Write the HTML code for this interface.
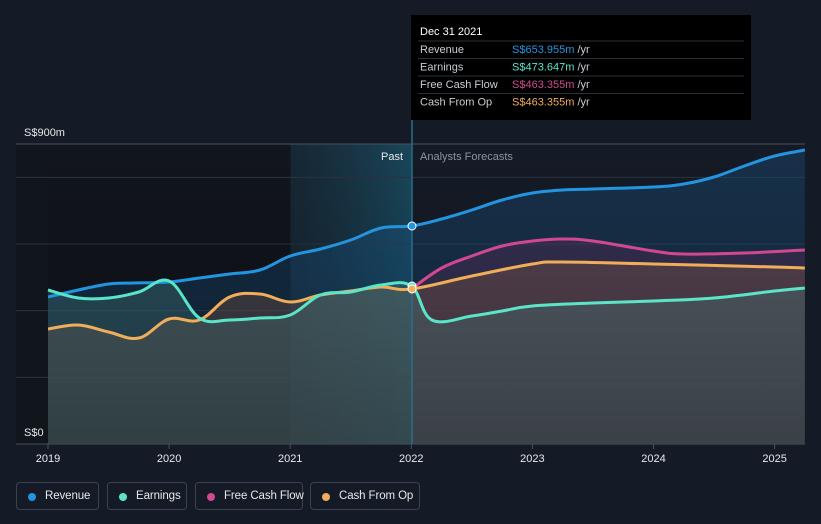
<!DOCTYPE html>
<html><head><meta charset="utf-8"><style>
body{margin:0;background:#151b26;font-family:"Liberation Sans",sans-serif;}
#wrap{position:relative;width:821px;height:524px;overflow:hidden;background:#151b26;}
.leg{position:absolute;top:482px;height:28px;border:1px solid #3a4150;border-radius:4px;color:#e6e8eb;font-size:11.5px;line-height:27px;box-sizing:border-box;padding-left:28px;white-space:nowrap;letter-spacing:-0.1px}
.leg i{position:absolute;left:11px;top:10px;width:8px;height:8px;border-radius:50%}
</style></head><body>
<div id="wrap">
<svg id="chart" width="821" height="524"></svg>
<div class="leg" style="left:16px;width:83px"><i style="background:#2394df"></i>Revenue</div>
<div class="leg" style="left:107px;width:80px"><i style="background:#5ae4c8"></i>Earnings</div>
<div class="leg" style="left:195px;width:108px"><i style="background:#d14890"></i>Free Cash Flow</div>
<div class="leg" style="left:310px;width:110px"><i style="background:#f0ad5a"></i>Cash From Op</div>
</div>
<script>
const yTicks=[0,200,400,600,800,900];
const xTickYears=[2019,2020,2021,2022,2023,2024,2025];
const revX=[2019,2019.25,2019.5,2019.7,2020,2020.25,2020.5,2020.75,2021,2021.25,2021.5,2021.75,2022,2022.25,2022.5,2022.75,2023,2023.25,2023.5,2024,2024.25,2024.5,2024.75,2025,2025.25];
const revY=[441,462,480,483,486,498,510,522,564,585,612,648,654,675,702,732,753,762,765,771,780,801,834,864,882];
const earnX=[2019,2019.25,2019.5,2019.75,2020,2020.25,2020.5,2020.75,2021,2021.25,2021.5,2021.75,2022,2022.17,2022.5,2022.75,2023,2023.5,2024,2024.5,2025,2025.25];
const earnY=[462,438,438,456,489,378,372,378,387,447,456,477,474,372,384,399,414,423,429,438,459,468];
const cfoX=[2019,2019.25,2019.5,2019.75,2020,2020.25,2020.5,2020.75,2021,2021.25,2021.5,2021.75,2022,2022.5,2023,2023.25,2024,2025,2025.25];
const cfoY=[345,357,336,318,375,372,441,450,426,447,459,471,465,504,540,546,540,531,528];
const fcfX=[2022,2022.25,2022.5,2022.75,2023,2023.25,2023.5,2024,2024.25,2024.75,2025.25];
const fcfY=[465,528,564,594,609,615,609,579,570,573,582];
const NS="http://www.w3.org/2000/svg";
const svg=document.getElementById('chart');
const X=y=>48+(y-2019)*121.1;
const Y=v=>444-v/3;
function el(t,a,p){const e=document.createElementNS(NS,t);for(const k in a)e.setAttribute(k,a[k]);(p||svg).appendChild(e);return e;}
function path(xs,ys){const p=xs.map((x,i)=>[X(x),Y(ys[i])]);let d='M'+p[0][0]+','+p[0][1];
for(let i=0;i<p.length-1;i++){const p0=p[i-1]||p[i],p1=p[i],p2=p[i+1],p3=p[i+2]||p2;const t=0.18;
d+=' C'+(p1[0]+(p2[0]-p0[0])*t)+','+(p1[1]+(p2[1]-p0[1])*t)+' '+(p2[0]-(p3[0]-p1[0])*t)+','+(p2[1]-(p3[1]-p1[1])*t)+' '+p2[0]+','+p2[1];}return d;}
const defs=el('defs',{});
defs.innerHTML='<linearGradient id="past" x1="0" x2="1"><stop offset="0" stop-color="#1c4a5e" stop-opacity="0.25"/><stop offset="1" stop-color="#1c6a86" stop-opacity="0.55"/></linearGradient>'+
'<linearGradient id="shade" x1="0" y1="0" x2="0" y2="1"><stop offset="0" stop-color="#000" stop-opacity="0"/><stop offset="1" stop-color="#000" stop-opacity="0.3"/></linearGradient>';
el('rect',{x:16,y:144,width:275,height:300,fill:'#11151c'});
const past=el('rect',{x:X(2021),y:144,width:X(2022)-X(2021),height:300,fill:'url(#past)'});


yTicks.forEach(v=>{const l=el('line',{x1:16,x2:805,y1:Y(v),y2:Y(v),stroke:v==0||v==900?'#4a505c':'#2c3340','stroke-width':1});

});
const series=[[revX,revY,'#2394df','rgba(30,90,140,0.35)','revenue'],[fcfX,fcfY,'#d14890','rgba(120,50,100,0.3)','free-cash-flow'],[cfoX,cfoY,'#f0ad5a','rgba(150,100,80,0.35)','cash-from-op'],[earnX,earnY,'#5ae4c8','rgba(80,140,140,0.35)','earnings']];
series.forEach(s=>{const d=path(s[0],s[1]);const a=el('path',{d:d+' L'+X(s[0][s[0].length-1])+',444 L'+X(s[0][0])+',444 Z',fill:s[3]});

});
el('rect',{x:48,y:144,width:757,height:300,fill:'url(#shade)'});
series.forEach(s=>{const l=el('path',{d:path(s[0],s[1]),fill:'none',stroke:s[2],'stroke-width':3});

});
el('line',{x1:412,x2:412,y1:95,y2:444,stroke:'#2a6f88','stroke-width':1.5});
[[654,'#2394df'],[474,'#5ae4c8'],[465,'#f0ad5a']].forEach(p=>{const c=el('circle',{cx:412,cy:Y(p[0]),r:4,fill:p[1],stroke:'#fff','stroke-width':1});

});
xTickYears.forEach(y=>{el('line',{x1:X(y),x2:X(y),y1:444,y2:449,stroke:'#4a505c'});const t=el('text',{x:X(y),y:462,fill:'#e6e8eb','font-size':11,'text-anchor':'middle'});t.textContent=y;

});
function txt(x,y,s,c,sz,anc,name){const t=el('text',{x:x,y:y,fill:c,'font-size':sz,'text-anchor':anc||'start'});t.textContent=s;

return t;}
txt(24,136,'S$900m','#e6e8eb',11,'start','y-axis-max-label');
txt(24,436,'S$0','#e6e8eb',11,'start','y-axis-min-label');
txt(403,160,'Past','#e6e8eb',11,'end','past-label');
txt(420,160,'Analysts Forecasts','#8e949e',11,'start','forecast-label');
const tip=el('g',{});


el('rect',{x:411,y:15,width:340,height:105,fill:'#000'},tip);
txt(420,35,'Dec 31 2021','#fff',11,'start','tooltip-date');
const rows=[['Revenue','S$653.955m','#2394df'],['Earnings','S$473.647m','#5ae4c8'],['Free Cash Flow','S$463.355m','#d14890'],['Cash From Op','S$463.355m','#f0ad5a']];
rows.forEach((r,i)=>{const y=53+i*17.5;el('line',{x1:418,x2:744,y1:y-12,y2:y-12,stroke:'#2a2f38'},tip);
txt(420,y,r[0],'#c8ccd2',11,'start','tooltip-row-label');
const t=el('text',{x:512,y:y,'font-size':11,fill:r[2]},tip);t.innerHTML=r[1]+' <tspan fill="#c8ccd2">/yr</tspan>';

});
</script>
</body></html>
